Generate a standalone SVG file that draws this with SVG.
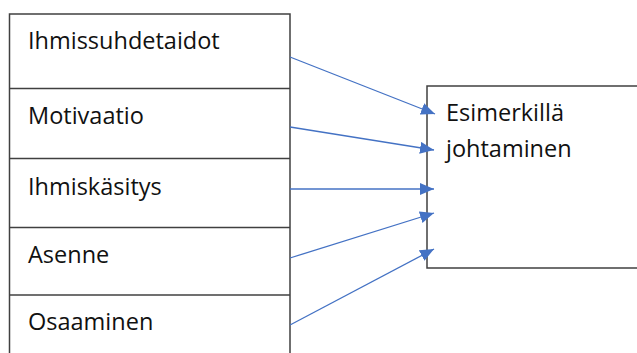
<svg xmlns="http://www.w3.org/2000/svg" width="637" height="353" viewBox="0 0 637 353">
<style>
.box{fill:#fff;stroke:#404040;stroke-width:1.5}
.sep{stroke:#404040;stroke-width:1.3}
.lbl{font-family:"Open Sans","Noto Sans","Liberation Sans",sans-serif;font-size:23.5px;fill:#111}
.con{stroke:#4472C4;stroke-width:1.3;fill:none;marker-end:url(#ah)}
</style>
<defs>
<marker id="ah" viewBox="0 0 14 12" refX="14" refY="6" markerWidth="14" markerHeight="12" markerUnits="userSpaceOnUse" orient="auto">
<path d="M0,0 L14,6 L0,12 z" fill="#4472C4"/>
</marker>
</defs>
<rect x="0" y="0" width="637" height="353" fill="#fff"/>
<g id="left-stack">
<path class="box" d="M9.5,360 V14 H290 V360" />
</g>
<g id="n1"><text class="lbl" x="28" y="49">Ihmissuhdetaidot</text></g>
<g id="n2"><line class="sep" x1="9.5" y1="88.5" x2="290" y2="88.5"/><text class="lbl" x="28" y="124">Motivaatio</text></g>
<g id="n3"><line class="sep" x1="9.5" y1="158.5" x2="290" y2="158.5"/><text class="lbl" x="28" y="195">Ihmiskäsitys</text></g>
<g id="n4"><line class="sep" x1="9.5" y1="227.5" x2="290" y2="227.5"/><text class="lbl" x="28" y="262.5">Asenne</text></g>
<g id="n5"><line class="sep" x1="9.5" y1="295" x2="290" y2="295"/><text class="lbl" x="28" y="330">Osaaminen</text></g>
<g id="target">
<path class="box" d="M645,86 H427 V268 H645"/>
<text class="lbl" x="446" y="121">Esimerkillä</text>
<text class="lbl" x="446" y="157">johtaminen</text>
</g>
<g id="connectors">
<line class="con" x1="290" y1="57" x2="435" y2="114"/>
<line class="con" x1="290" y1="127" x2="434" y2="150"/>
<line class="con" x1="290" y1="189" x2="434" y2="189"/>
<line class="con" x1="290" y1="258" x2="434" y2="213"/>
<line class="con" x1="290" y1="325" x2="434" y2="249"/>
</g>
</svg>
